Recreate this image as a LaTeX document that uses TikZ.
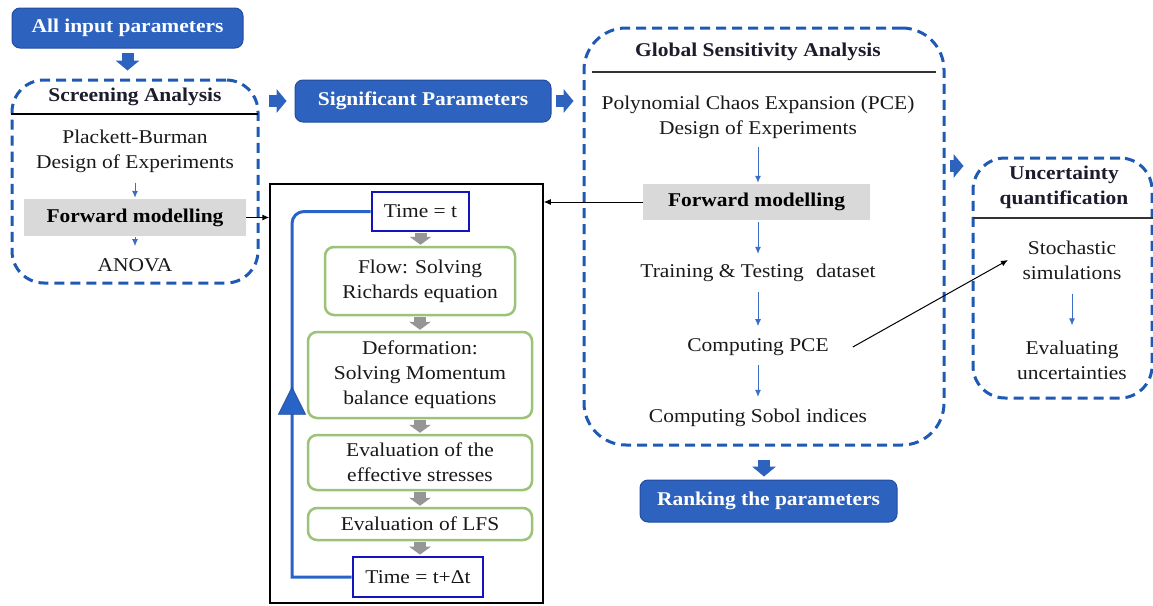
\documentclass[tikz,border=0pt]{standalone}
\usepackage{fontspec}
\setmainfont{Liberation Serif}[FakeStretch=1.1]
\usetikzlibrary{arrows.meta,decorations.markings,calc}
\definecolor{bfill}{RGB}{45,98,190}
\definecolor{bdraw}{RGB}{35,78,160}
\definecolor{dblue}{RGB}{30,90,180}
\definecolor{tblue}{RGB}{60,110,200}
\definecolor{gbox}{RGB}{217,217,217}
\definecolor{gline}{RGB}{155,195,120}
\definecolor{tbox}{RGB}{20,20,190}
\definecolor{loopc}{RGB}{40,100,200}
\definecolor{garr}{RGB}{150,150,150}
\definecolor{headc}{RGB}{28,28,45}
\definecolor{txtc}{RGB}{25,25,25}
\begin{document}
\begin{tikzpicture}[x=1pt,y=-1pt,
  every node/.style={font=\fontsize{19.5}{25}\selectfont, inner sep=0pt, align=center, text=txtc},
  hfont/.style={font=\fontsize{19.5}{25}\selectfont\bfseries, text=headc},
  bluebox/.style={draw=bdraw, line width=1pt, fill=bfill, rounded corners=8pt, text=white, font=\fontsize{19.5}{25}\selectfont\bfseries},
  dbox/.style={draw=dblue, line width=3pt, dash pattern=on 10pt off 6pt, rounded corners=#1},
  graybox/.style={fill=gbox, font=\fontsize{19.5}{25}\selectfont\bfseries, text=black},
  greenbox/.style={draw=gline, line width=2.5pt, rounded corners=9pt, fill=white},
  timebox/.style={draw=tbox, line width=2.8pt, fill=white},
  thinarr/.style={draw=tblue, line width=1pt, -{Latex[length=7pt,width=6pt]}},
  blackarr/.style={draw=black, line width=1pt, -{Latex[length=7pt,width=6pt]}},
  blkarr/.style={draw=bfill, line width=12pt, -{Triangle[length=10pt,width=24pt,line width=0pt]}},
  grayarr/.style={draw=garr, line width=12pt, -{Triangle[length=8pt,width=22pt,line width=0pt]}, shorten <=1pt, shorten >=1pt},
  loopline/.style={draw=loopc, line width=3pt},
]
\useasboundingbox (0,0) rectangle (1153,605);

% ---------- Left column ----------
\node[bluebox, minimum width=231pt, minimum height=40pt] (allin) at (127.5,28) {All input parameters};
\node[dbox=32pt, minimum width=246pt, minimum height=203pt] (scr) at (135,181.5) {};
\node[hfont] (scrt) at (135,97) {Screening Analysis};
\draw[line width=1.2pt, black] (11,114) -- (258,114);
\node (pb) at (135,151) {Plackett-Burman\\Design of Experiments};
\node[graybox, minimum width=222pt, minimum height=37pt] (fm1) at (135,217.5) {Forward modelling};
\node (anova) at (135,265) {ANOVA};
\draw[thinarr, shorten <=10pt, shorten >=1pt] (pb) -- (fm1);
\draw[thinarr, shorten <=1pt, shorten >=12pt] (fm1) -- (anova);

\draw[blkarr, shorten <=4pt, shorten >=8pt] (allin.south) -- (allin.south |- scr.north);

% ---------- Significant parameters ----------
\node[bluebox, minimum width=256pt, minimum height=42pt] (sig) at (423,101) {Significant Parameters};
\draw[blkarr, shorten <=9pt, shorten >=8pt] (scr.east |- sig.west) -- (sig.west);

% ---------- GSA ----------
\node[dbox=42pt, minimum width=360pt, minimum height=417pt] (gsa) at (764,236.5) {};
\draw[blkarr, shorten <=4pt, shorten >=9pt] (sig.east) -- (gsa.west |- sig.east);
\node[hfont] (gsat) at (758,52) {Global Sensitivity Analysis};
\draw[line width=1.2pt, black!80] (592,72) -- (936,72);
\node (pce) at (758,117.5) {Polynomial Chaos Expansion (PCE)\\Design of Experiments};
\node[graybox, minimum width=227pt, minimum height=36pt] (fm2) at (756.5,202) {Forward modelling};
\node (train) at (758,273) {Training \& Testing\hspace{0.35em} dataset};
\node (cpce) at (758,347) {Computing PCE};
\node (sobol) at (758,418) {Computing Sobol indices};
\draw[thinarr, shorten <=8pt, shorten >=1pt] (pce) -- (pce |- fm2.north);
\draw[thinarr, shorten <=2pt, shorten >=10pt] (pce |- fm2.south) -- (train);
\draw[thinarr, shorten <=10pt, shorten >=12pt] (train) -- (cpce);
\draw[thinarr, shorten <=9pt, shorten >=12pt] (cpce) -- (sobol);

\node[bluebox, minimum width=257pt, minimum height=42pt] (rank) at (768.5,501) {Ranking the parameters};
\draw[blkarr, shorten <=13pt, shorten >=3pt] (gsa.south) -- (gsa.south |- rank.north);

% ---------- Uncertainty quantification ----------
\node[dbox=32pt, minimum width=179pt, minimum height=240pt] (uq) at (1062.5,278) {};
\draw[blkarr, shorten <=4pt, shorten >=8pt] ([yshift=70.5pt]gsa.east) -- ([yshift=70.5pt]gsa.east -| uq.west);
\node[hfont] (uqt) at (1064,187) {Uncertainty\\quantification};
\draw[line width=1.2pt, black!80] (973,218) -- (1153,218);
\node (stoch) at (1072,260) {Stochastic\\simulations};
\node (evalu) at (1072,360) {Evaluating\\uncertainties};
\draw[thinarr, shorten <=14pt, shorten >=15pt] (stoch) -- (evalu);

\coordinate (uqin) at (1008,260);
\draw[blackarr] ([xshift=24pt]cpce.east) -- (uqin);

% ---------- Inner model box ----------
\node[draw=black, line width=1.5pt, minimum width=273pt, minimum height=419pt] (inner) at (406.5,393.5) {};
\draw[blackarr] (fm1.east) -- (fm1.east -| inner.west);
\draw[blackarr] (fm2.west) -- (fm2.west -| inner.east);

\node[timebox, minimum width=97pt, minimum height=39pt] (tt) at (420.5,211.5) {Time = t};
\node[greenbox, minimum width=190pt, minimum height=68pt] (flow) at (420,281) {Flow: Solving\\Richards equation};
\node[greenbox, minimum width=224pt, minimum height=86pt] (defo) at (420,375) {Deformation:\\Solving Momentum\\balance equations};
\node[greenbox, minimum width=224pt, minimum height=55pt] (eff) at (420,462.5) {Evaluation of the\\effective stresses};
\node[greenbox, minimum width=224pt, minimum height=32pt] (lfs) at (420,524) {Evaluation of LFS};
\node[timebox, minimum width=130pt, minimum height=40pt] (tdt) at (418,577) {Time = t+Δt};

\draw[grayarr] (tt.south) -- (tt.south |- flow.north);
\draw[grayarr] (flow.south) -- (flow.south |- defo.north);
\draw[grayarr] (defo.south) -- (defo.south |- eff.north);
\draw[grayarr] (eff.south) -- (eff.south |- lfs.north);
\draw[grayarr] (lfs.south) -- (lfs.south |- tdt.north);

\coordinate (lc) at (292,577);
\draw[loopline, postaction={decorate, decoration={markings,
   mark=at position 0.5 with {\filldraw[sharp corners, fill=loopc, draw=bdraw, line width=0.8pt] (0pt,0pt) -- (-27pt,13.5pt) -- (-27pt,-13.5pt) -- cycle;}}}]
   (tdt.west) -- (lc) [rounded corners=12pt] |- (tt.west);
\end{tikzpicture}
\end{document}
